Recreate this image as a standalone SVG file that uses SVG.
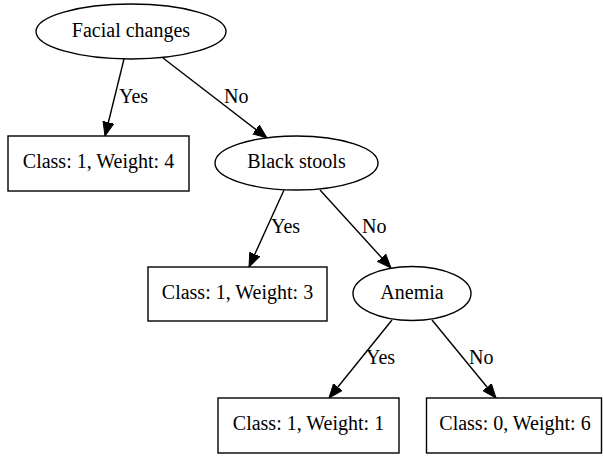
<svg xmlns="http://www.w3.org/2000/svg" width="603" height="457" viewBox="0 0 603 457">
<style>
.n{fill:#fff;stroke:#000;stroke-width:1.4}
.t{font-family:"Liberation Serif","Times New Roman",serif;font-size:20px;fill:#000;text-anchor:middle}
.l{font-family:"Liberation Serif","Times New Roman",serif;font-size:20px;fill:#000}
.e{fill:none;stroke:#000;stroke-width:1.4;marker-end:url(#arr)}
</style>
<defs>
<marker id="arr" markerUnits="userSpaceOnUse" markerWidth="16" markerHeight="13" refX="14" refY="6" orient="auto">
<path d="M0,0.5 L14,6 L0,11.5 z" fill="#000" stroke="#000" stroke-width="1"/>
</marker>
</defs>
<rect width="603" height="457" fill="#fff"/>
<g id="edges">
<line class="e" x1="124" y1="59" x2="105" y2="136"/>
<text class="l" x="119" y="102.5">Yes</text>
<line class="e" x1="163" y1="58" x2="267" y2="138"/>
<text class="l" x="224" y="102.5">No</text>
<line class="e" x1="284" y1="190" x2="249" y2="267"/>
<text class="l" x="271" y="233">Yes</text>
<line class="e" x1="320" y1="190" x2="391" y2="268"/>
<text class="l" x="362" y="233">No</text>
<line class="e" x1="392" y1="320" x2="329" y2="398"/>
<text class="l" x="366" y="364">Yes</text>
<line class="e" x1="432" y1="320" x2="496" y2="398"/>
<text class="l" x="469" y="364">No</text>
</g>
<g id="facial">
<ellipse class="n" cx="131" cy="31.5" rx="95" ry="27.5"/>
<text class="t" x="131" y="36.5">Facial changes</text>
</g>
<g id="leaf4">
<rect class="n" x="8" y="136" width="181" height="55"/>
<text class="t" x="98.5" y="167.5">Class: 1, Weight: 4</text>
</g>
<g id="black">
<ellipse class="n" cx="296.5" cy="163" rx="81.5" ry="27"/>
<text class="t" x="296.5" y="168">Black stools</text>
</g>
<g id="leaf3">
<rect class="n" x="148" y="267" width="179" height="54"/>
<text class="t" x="237.5" y="298.5">Class: 1, Weight: 3</text>
</g>
<g id="anemia">
<ellipse class="n" cx="412" cy="293.5" rx="59" ry="27"/>
<text class="t" x="412" y="298.5">Anemia</text>
</g>
<g id="leaf1">
<rect class="n" x="218" y="398" width="181" height="55"/>
<text class="t" x="308.5" y="430">Class: 1, Weight: 1</text>
</g>
<g id="leaf6">
<rect class="n" x="426.5" y="398" width="175" height="55"/>
<text class="t" x="515" y="430">Class: 0, Weight: 6</text>
</g>
</svg>
